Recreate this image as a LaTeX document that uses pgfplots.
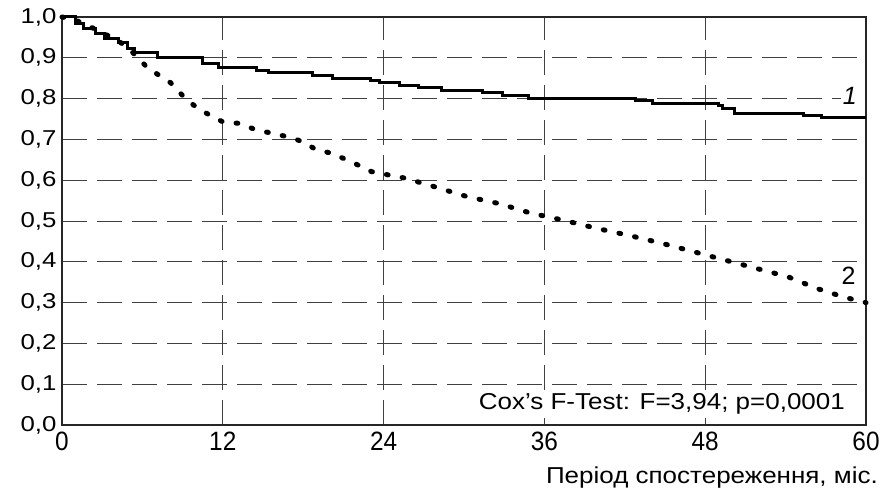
\documentclass[border=0pt]{standalone}
\usepackage{fontspec}
\setmainfont{Liberation Sans}[FakeStretch=1.13]
\newfontfamily\yfont{Liberation Sans}[FakeStretch=1.2]
\newfontfamily\xfont{Liberation Sans}[FakeStretch=0.92]
\newfontfamily\plainfont{Liberation Sans}
\usepackage{pgfplots}
\pgfplotsset{compat=1.18}
\begin{document}
\begin{tikzpicture}
\begin{axis}[
  width=804pt, height=408pt, scale only axis,
  xmin=0, xmax=60, ymin=0, ymax=1,
  xtick={0,12,24,36,48,60},
  ytick={0,0.1,0.2,0.3,0.4,0.5,0.6,0.7,0.8,0.9,1.0},
  /pgf/number format/assume math mode=true,
  yticklabel style={font=\yfont\fontsize{21.5}{24}\selectfont, xshift=-2pt, /pgf/number format/.cd, fixed, fixed zerofill, precision=1, use comma},
  xticklabel style={font=\xfont\fontsize{26.5}{30}\selectfont, yshift=-3pt},
  major tick length=0pt,
  grid=major,
  major grid style={dash pattern=on 25pt off 10pt, black!75, line width=1pt},
  axis line style={line width=1.8pt, black!85},
  clip=false,
  xlabel={Період спостереження, міс.},
  xlabel style={font=\fontsize{23}{26}\selectfont, at={(rel axis cs:1,0)}, anchor=base east, xshift=12pt, yshift=-58pt, inner sep=0pt},
]
\addplot[const plot, line width=3pt, black] coordinates {
(0,1.0) (1.0,0.985) (1.6,0.972) (2.5,0.96) (3.2,0.948) (4.2,0.937) (4.9,0.923) (5.4,0.9125)
(7.1,0.900) (10.5,0.885) (11.7,0.876) (14.5,0.87) (15.4,0.8635) (18.7,0.856) (20.2,0.85)
(23.0,0.844) (23.7,0.839) (25.2,0.833) (26.6,0.826) (28.3,0.820) (31.4,0.8145) (32.9,0.808)
(34.8,0.80) (42.8,0.796) (44.1,0.788) (49.0,0.782) (49.3,0.775) (50.2,0.764) (55.3,0.758)
(56.7,0.753) (60,0.753)
};
\addplot[black, line width=5pt, line cap=round, dash pattern=on 1.8pt off 14.2pt] coordinates {
(0,1.0) (0.8,0.995) (1.3,0.988) (2.3,0.973) (3.2,0.958) (4.1,0.944) (4.8,0.927) (5.6,0.903)
(6.3,0.878) (7.2,0.858) (8.1,0.839) (9.3,0.797) (10.2,0.775) (11,0.76) (12,0.743)
(13.3,0.739) (14.5,0.723) (15.7,0.715) (17,0.705) (18,0.694) (18.9,0.676) (20.1,0.666)
(21.1,0.652) (22.1,0.637) (23.1,0.621) (24.5,0.612) (25.6,0.605) (27.9,0.583) (30.2,0.56)
(32.7,0.542) (34.9,0.52) (37.4,0.502) (39.9,0.482) (42.4,0.464) (44.8,0.445) (47.1,0.425)
(49.5,0.404) (51.8,0.384) (54.2,0.363) (56.3,0.335) (58.4,0.313) (60,0.30)
};
\node[font=\plainfont\fontsize{25}{28}\selectfont\itshape, fill=white, inner sep=1.5pt] at (axis cs:58.8,0.806) {1};
\node[font=\plainfont\fontsize{25}{28}\selectfont, inner sep=1.5pt] at (axis cs:58.7,0.365) {2};
\node[font=\fontsize{23}{26}\selectfont, fill=white, anchor=base east, inner sep=3pt] at (axis cs:58.66,0.037) {Cox’s F-Test: F=3,94; p=0,0001};
\path ([shift={(-62pt,-68pt)}]rel axis cs:0,0) rectangle ([shift={(29pt,17pt)}]rel axis cs:1,1);
\end{axis}
\end{tikzpicture}
\end{document}
